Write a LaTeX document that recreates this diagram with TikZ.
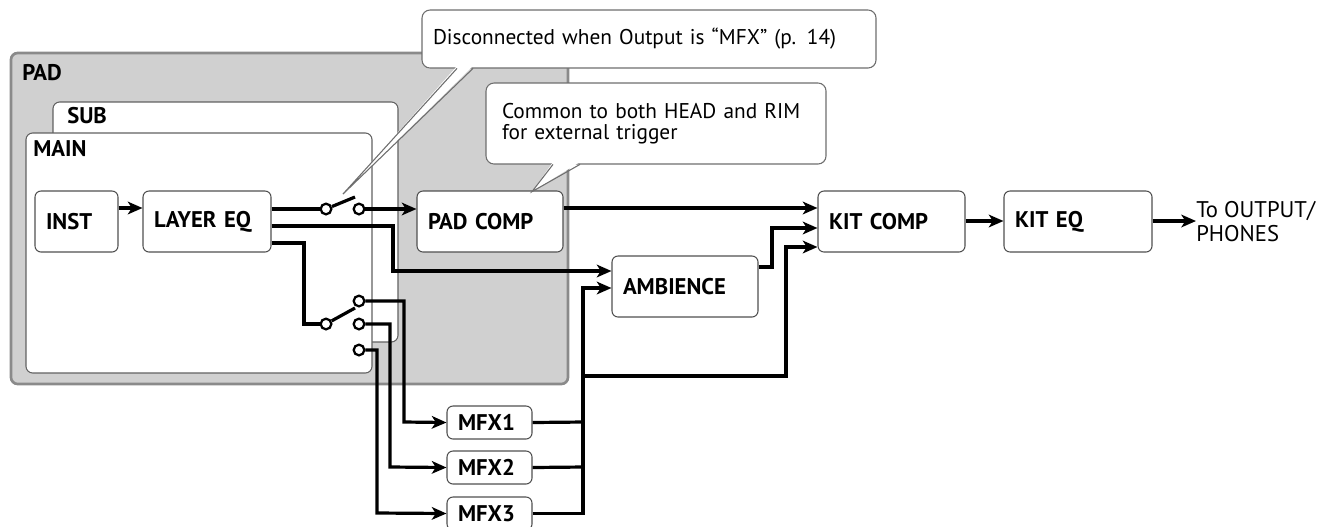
\documentclass[tikz,border=0pt]{standalone}
\usepackage{fontspec}
\setmainfont{PT Sans}
\usetikzlibrary{arrows.meta}
\definecolor{padfill}{HTML}{D0D0D0}
\definecolor{padline}{HTML}{8A8A8A}
\definecolor{boxline}{HTML}{505050}
\definecolor{callline}{HTML}{6E6E6E}
\tikzset{
  box/.style={draw=boxline, line width=0.8pt, fill=white, rounded corners=4.5pt, align=left,
    inner xsep=8.25pt, inner ysep=0pt, minimum height=45.75pt,
    font=\fontsize{17}{20}\selectfont\bfseries},
  mfxbox/.style={box, minimum height=24.75pt, text width=47.25pt},
  callbox/.style={draw=callline, line width=0.8pt, fill=white, rounded corners=6pt, align=left,
    inner ysep=0pt, font=\fontsize{16}{15.75}\selectfont},
  wire/.style={line width=2.4pt, line cap=butt},
  arr/.style={wire, -{Stealth[length=11pt,width=9.5pt,inset=3pt]}},
  swc/.style={circle, draw, line width=1.7pt, fill=white, inner sep=0pt, minimum size=8pt},
  grp/.style={font=\fontsize{17}{20}\selectfont\bfseries, anchor=base west, inner sep=0pt},
  tail/.style={draw=callline, line width=0.8pt}
}
\begin{document}
\begin{tikzpicture}[x=0.75pt,y=-0.75pt]
\useasboundingbox (0,0) rectangle (1319,526);
% group frames
\draw[fill=padfill, draw=padline, line width=2pt, rounded corners=5pt] (11,53) rectangle (568,384);
\node[grp] (padl) at (22,80) {PAD};
\draw[fill=white, draw=boxline!90, line width=0.8pt, rounded corners=5pt] (53,102) rectangle (398,342);
\node[grp] (subl) at (67,123) {SUB};
\draw[fill=white, draw=boxline!90, line width=0.8pt, rounded corners=5pt] (26,133) rectangle (372,373);
\node[grp] (mainl) at (33,156) {MAIN};
% blocks
\node[box, text width=45.75pt] (inst) at (76.5,221.5) {INST};
\node[box, text width=79.5pt] (leq) at (207,221.5) {LAYER EQ};
\node[box, text width=93pt] (pcomp) at (490,221.5) {PAD COMP};
\node[box, text width=93.75pt] (kcomp) at (891.5,221.5) {KIT COMP};
\node[box, text width=94.5pt] (keq) at (1078,221.5) {KIT EQ};
\node[box, text width=93pt] (amb) at (685,286.5) {AMBIENCE};
\node[mfxbox] (mfx1) at (489.5,422.5) {MFX1};
\node[mfxbox] (mfx2) at (489.5,467.5) {MFX2};
\node[mfxbox] (mfx3) at (489.5,513.5) {MFX3};
\node[anchor=west, align=left, inner sep=0pt, font=\fontsize{17}{18.5}\selectfont] (out) at (1196,221.5) {To OUTPUT/\\PHONES};
% switches
\node[swc] (s1a) at (326,209) {};
\node[swc] (s1b) at (359,209) {};
\coordinate (b1) at (355,197);
\node[swc] (s2a) at (326,324) {};
\node[swc] (s2b) at (359,301) {};
\node[swc] (s2c) at (359,324) {};
\node[swc] (s2d) at (359,350) {};
\coordinate (b2) at (355,308);
% connectors
\draw[arr] (inst.east |- 0,208) -- (leq.west |- 0,208);
\draw[wire] (leq.east |- 0,209) -- (s1a);
\draw[wire] (s1a) -- (b1);
\draw[arr] (s1b) -- (pcomp.west |- 0,209);
\draw[arr] (leq.east |- 0,226) -| (393,271) -- (amb.west |- 0,271);
\draw[wire] (leq.east |- 0,243) -| (304,324) -- (s2a);
\draw[wire] (s2a) -- (b2);
\draw[arr] (s2b) -| (404,422) -- (mfx1.west);
\draw[arr] (s2c) -| (390,467) -- (mfx2.west);
\draw[arr] (s2d) -| (377,513) -- (mfx3.west);
\draw[arr] (pcomp.east |- 0,208) -- (kcomp.west |- 0,208);
\draw[arr] (amb.east |- 0,267) -| (772,228) -- (kcomp.west |- 0,228);
\draw[wire] (mfx1.east) -- (584.2,422);
\draw[wire] (mfx2.east) -- (584.2,467);
\draw[arr] (mfx3.east) -| (583,288) -- (amb.west |- 0,288);
\draw[arr] (583,376) -| (786,247) -- (kcomp.west |- 0,247);
\draw[arr] (kcomp.east |- 0,221) -- (keq.west |- 0,221);
\draw[arr] (keq.east |- 0,221) -- (out.west |- 0,221);
% callouts
\node[callbox, minimum width=340.5pt, minimum height=43.5pt, text width=324pt, inner xsep=8.25pt] (c1) at (649,39)
  {Disconnected when Output is “MFX” (p. 14)};
\coordinate (t1) at (343,194);
\fill[white] (457,66) -- (473,66) -- (t1) -- cycle;
\draw[tail] (457,68.4) -- (t1) -- (473,68.4);
\node[callbox, minimum width=255pt, minimum height=60.75pt, text width=231pt, inner xsep=12pt] (c2) at (656,123.5)
  {Common to both HEAD and RIM\\for external trigger};
\coordinate (t2) at (532,191.6);
\fill[white] (553,162) -- (580,162) -- (t2) -- cycle;
\draw[tail] (553,164.4) -- (t2) -- (580,164.4);
\end{tikzpicture}
\end{document}
